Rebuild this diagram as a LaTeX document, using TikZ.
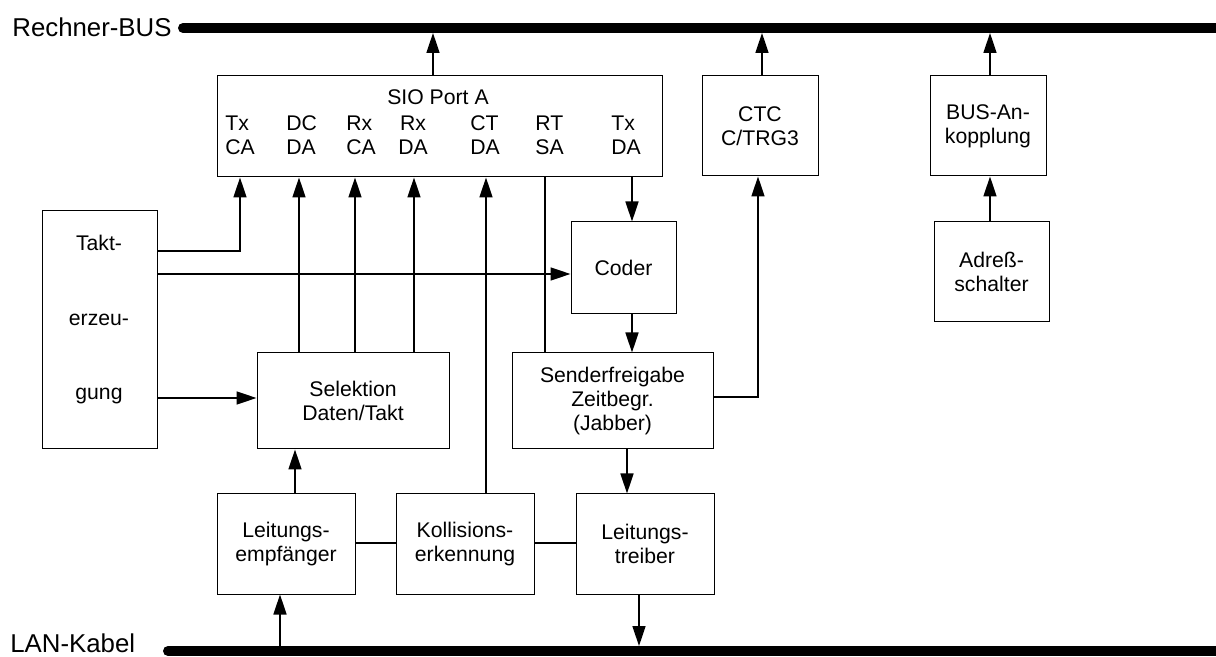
\documentclass[tikz,border=0pt]{standalone}
\usepackage{fontspec}
\setmainfont{Liberation Sans}
\usetikzlibrary{arrows.meta}
\newcommand\lblfont{\fontsize{10.6}{12}\selectfont}
\newcommand\busfont{\fontsize{12.9}{15}\selectfont}
\begin{document}
\begin{tikzpicture}[x=0.5pt,y=-0.5pt,
  box/.style={draw,line width=0.5pt,inner sep=0pt,align=center,font=\lblfont},
  txt/.style={inner sep=0pt,font=\lblfont},
  conn/.style={line width=0.8pt},
  arr/.style={conn,-{Triangle[length=10pt,width=6.5pt]}},
  bus/.style={line width=5pt,line cap=round}]
\useasboundingbox (0,0) rectangle (1216,657);
% buses
\coordinate (rbL) at (183,28);
\coordinate (rbR) at (1230,28);
\coordinate (lanL) at (168,651);
\coordinate (lanR) at (1230,651);
\draw[bus] (rbL) -- (rbR);
\draw[bus] (lanL) -- (lanR);
\node[inner sep=0pt,anchor=west,font=\busfont] (rbtext) at (12,27) {Rechner-BUS};
\node[inner sep=0pt,anchor=west,font=\busfont] (lantext) at (10,643) {LAN-Kabel};
% boxes
\node[box,minimum width=222.5pt,minimum height=50.5pt] (sio) at (439.5,126.5) {};
\node[txt] (siot) at (438,97) {SIO Port A};
\node[txt,align=left,anchor=west] (l1) at (225,135) {Tx\\CA};
\node[txt,align=left,anchor=west] (l2) at (286,135) {DC\\DA};
\node[txt,align=left,anchor=west] (l3) at (346,135) {Rx\\CA};
\node[txt,align=center] (l4) at (413,135) {Rx\\DA};
\node[txt,align=left,anchor=west] (l5) at (470,135) {CT\\DA};
\node[txt,align=left,anchor=west] (l6) at (535,135) {RT\\SA};
\node[txt,align=left,anchor=west] (l7) at (611,135) {Tx\\DA};
\node[box,minimum width=58pt,minimum height=50pt] (ctc) at (760,126) {CTC\\C/TRG3};
\node[box,minimum width=58pt,minimum height=50pt] (busan) at (988,126) {BUS-An-\\kopplung};
\node[box,minimum width=57.5pt,minimum height=50pt] (adr) at (991.5,272) {Adreß-\\schalter};
\node[box,minimum width=57.5pt,minimum height=119pt] (takt) at (99.5,330) {};
\node[txt,anchor=base] (t1) at (99,251) {Takt-};
\node[txt,anchor=base] (t2) at (99,326) {erzeu-};
\node[txt,anchor=base] (t3) at (99,400) {gung};
\node[box,minimum width=52.5pt,minimum height=46pt] (coder) at (623.5,268) {Coder};
\node[box,minimum width=96pt,minimum height=48pt] (sel) at (353,401) {Selektion\\Daten/Takt};
\node[box,minimum width=100.5pt,minimum height=48pt] (send) at (612.5,401) {Senderfreigabe\\Zeitbegr.\\(Jabber)};
\node[box,minimum width=69pt,minimum height=50pt] (lemp) at (286,544) {Leitungs-\\empfänger};
\node[box,minimum width=69pt,minimum height=50pt] (koll) at (465,544) {Kollisions-\\erkennung};
\node[box,minimum width=69pt,minimum height=50pt] (ltr) at (645,544) {Leitungs-\\treiber};
% helper coordinates
\coordinate (rb1) at (433,33);
\coordinate (rb2) at (762,33);
\coordinate (rb3) at (990,33);
\coordinate (lan1) at (280,646);
\coordinate (lan2) at (639,646);
\coordinate (xa) at (240,0);
\coordinate (xb) at (299,0);
\coordinate (xc) at (355,0);
\coordinate (xd) at (414,0);
\coordinate (xe) at (486,0);
\coordinate (xf) at (545,0);
\coordinate (xg) at (632,0);
\coordinate (xh) at (758,0);
\coordinate (xi) at (627,0);
\coordinate (xj) at (295,0);
\coordinate (xk) at (990,0);
\coordinate (ya) at (0,251);
\coordinate (yb) at (0,274);
\coordinate (yc) at (0,398);
\coordinate (yd) at (0,397);
\coordinate (ye) at (0,543);
% connectors
\draw[arr] (sio.north -| rb1) -- (rb1);
\draw[arr] (ctc.north -| rb2) -- (rb2);
\draw[arr] (busan.north -| rb3) -- (rb3);
\draw[arr] (adr.north -| xk) -- (busan.south -| xk);
\draw[arr] (takt.east |- ya) -| (sio.south -| xa);
\draw[arr] (takt.east |- yb) -- (coder.west |- yb);
\draw[arr] (takt.east |- yc) -- (sel.west |- yc);
\draw[arr] (sel.north -| xb) -- (sio.south -| xb);
\draw[arr] (sel.north -| xc) -- (sio.south -| xc);
\draw[arr] (sel.north -| xd) -- (sio.south -| xd);
\draw[arr] (koll.north -| xe) -- (sio.south -| xe);
\draw[conn] (sio.south -| xf) -- (send.north -| xf);
\draw[arr] (sio.south -| xg) -- (coder.north -| xg);
\draw[arr] (coder.south -| xg) -- (send.north -| xg);
\draw[arr] (send.east |- yd) -| (ctc.south -| xh);
\draw[arr] (send.south -| xi) -- (ltr.north -| xi);
\draw[arr] (lemp.north -| xj) -- (sel.south -| xj);
\draw[arr] (lan1) -- (lemp.south -| lan1);
\draw[arr] (ltr.south -| lan2) -- (lan2);
\draw[conn] (lemp.east |- ye) -- (koll.west |- ye);
\draw[conn] (koll.east |- ye) -- (ltr.west |- ye);
\end{tikzpicture}
\end{document}
